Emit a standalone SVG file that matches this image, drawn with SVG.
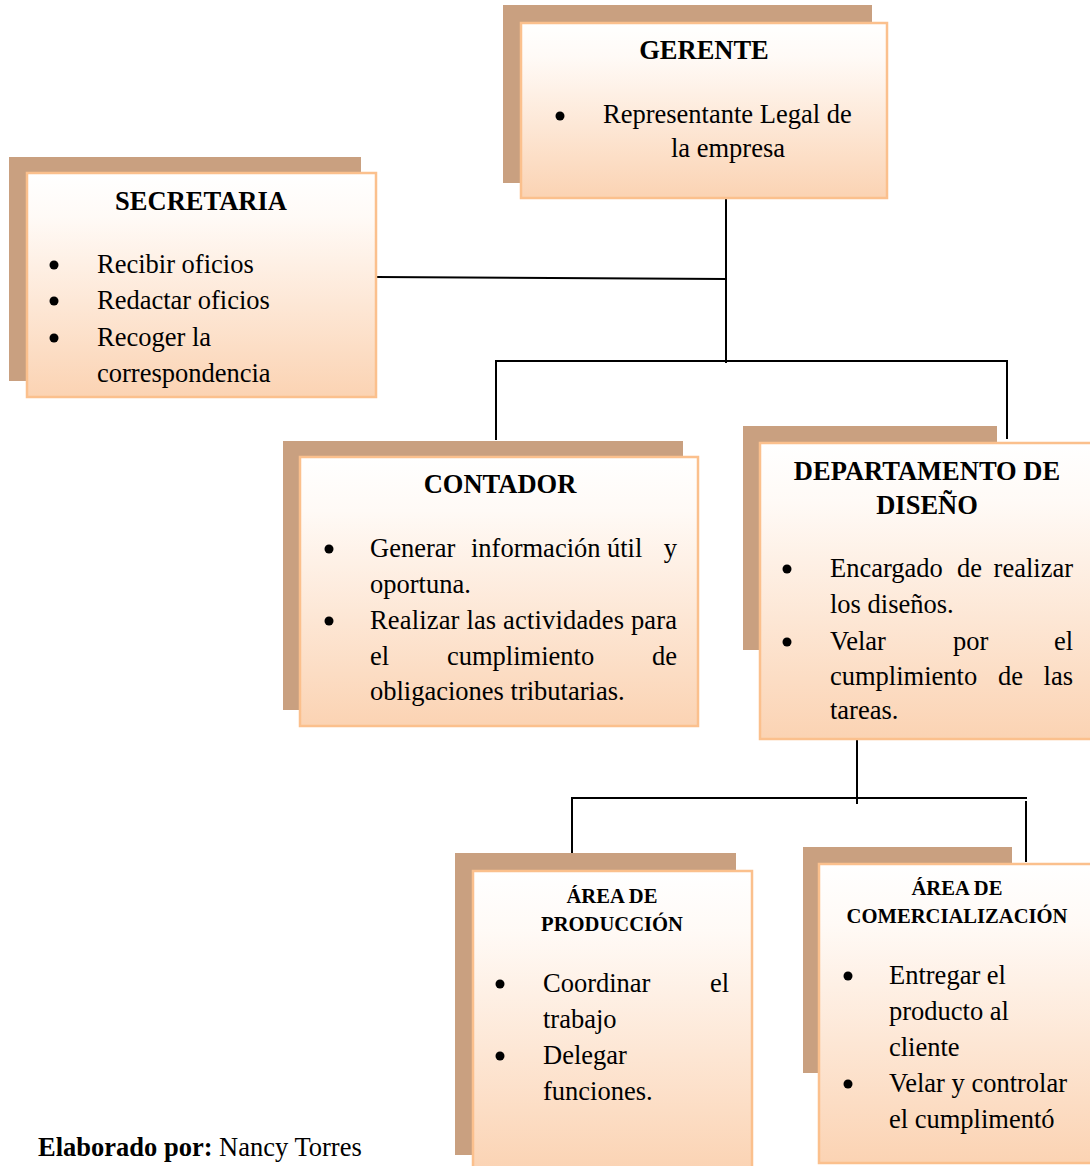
<svg xmlns="http://www.w3.org/2000/svg" width="1090" height="1166" viewBox="0 0 1090 1166">
<defs>
<linearGradient id="peach" x1="0" y1="0" x2="0" y2="1">
<stop offset="0" stop-color="#FFFFFF"/>
<stop offset="0.2" stop-color="#FFFAF6"/>
<stop offset="1" stop-color="#FBD3B3"/>
</linearGradient>
<style>
.shadow{fill:#C9A080;}
.box{fill:url(#peach);stroke:#FBC08D;stroke-width:2.5;}
.t{font-family:"Liberation Serif","Times New Roman",serif;font-size:26.5px;fill:#000;}
.h{font-family:"Liberation Serif","Times New Roman",serif;font-size:26.5px;font-weight:bold;fill:#000;text-anchor:middle;}
.hs{font-family:"Liberation Serif","Times New Roman",serif;font-size:20.6px;font-weight:bold;fill:#000;text-anchor:middle;}
.e{text-anchor:end;}
.m{text-anchor:middle;}
.b{fill:#000;}
.c{stroke:#000;stroke-width:2;fill:none;}
</style>
</defs>
<rect width="1090" height="1166" fill="#FFFFFF"/>

<g id="connectors">
<line class="c" x1="726" y1="198" x2="726" y2="363"/>
<line class="c" x1="376" y1="277" x2="726" y2="279"/>
<polyline class="c" points="496,440 496,361 1007,361 1007,439"/>
<line class="c" x1="857" y1="739" x2="857" y2="804"/>
<polyline class="c" points="572,858 572,798 1027,798"/>
<line class="c" x1="1026" y1="801" x2="1026" y2="862"/>
</g>

<g id="gerente">
<rect class="shadow" x="503" y="5" width="369" height="178"/>
<rect class="box" x="521" y="23" width="366" height="175"/>
<text class="h" x="704" y="59">GERENTE</text>
<circle class="b" cx="560" cy="116" r="4.5"/>
<text class="t" x="603" y="123">Representante Legal de</text>
<text class="t m" x="728" y="157">la empresa</text>
</g>

<g id="secretaria">
<rect class="shadow" x="9" y="157" width="352" height="224"/>
<rect class="box" x="27" y="173" width="349" height="224"/>
<text class="h" x="201" y="210">SECRETARIA</text>
<circle class="b" cx="54" cy="265" r="4.5"/>
<text class="t" x="97" y="273">Recibir oficios</text>
<circle class="b" cx="54" cy="301" r="4.5"/>
<text class="t" x="97" y="309">Redactar oficios</text>
<circle class="b" cx="54" cy="338" r="4.5"/>
<text class="t" x="97" y="346">Recoger la</text>
<text class="t" x="97" y="382">correspondencia</text>
</g>

<g id="contador">
<rect class="shadow" x="283" y="441" width="400" height="269"/>
<rect class="box" x="300" y="457" width="398" height="269"/>
<text class="h" x="500" y="493">CONTADOR</text>
<circle class="b" cx="329" cy="549" r="4.5"/>
<text class="t" x="370" y="557">Generar</text>
<text class="t" x="471" y="557">información</text>
<text class="t" x="607" y="557">útil</text>
<text class="t e" x="677" y="557">y</text>
<text class="t" x="370" y="593">oportuna.</text>
<circle class="b" cx="329" cy="621" r="4.5"/>
<text class="t" x="370" y="629" textLength="307" lengthAdjust="spacing">Realizar las actividades para</text>
<text class="t" x="370" y="665">el</text>
<text class="t" x="447" y="665">cumplimiento</text>
<text class="t e" x="677" y="665">de</text>
<text class="t" x="370" y="700">obligaciones tributarias.</text>
</g>

<g id="departamento">
<rect class="shadow" x="743" y="426" width="254" height="224"/>
<rect class="box" x="760" y="443" width="332" height="296"/>
<text class="h" x="927" y="480">DEPARTAMENTO DE</text>
<text class="h" x="927" y="514">DISEÑO</text>
<circle class="b" cx="787" cy="569" r="4.5"/>
<text class="t" x="830" y="577">Encargado</text>
<text class="t" x="957" y="577">de</text>
<text class="t e" x="1073" y="577">realizar</text>
<text class="t" x="830" y="613">los diseños.</text>
<circle class="b" cx="787" cy="642" r="4.5"/>
<text class="t" x="830" y="650">Velar</text>
<text class="t" x="953" y="650">por</text>
<text class="t e" x="1073" y="650">el</text>
<text class="t" x="830" y="685">cumplimiento</text>
<text class="t" x="998" y="685">de</text>
<text class="t e" x="1073" y="685">las</text>
<text class="t" x="830" y="719">tareas.</text>
</g>

<g id="area-produccion">
<rect class="shadow" x="455" y="853" width="281" height="302"/>
<rect class="box" x="473" y="871" width="279" height="302"/>
<text class="hs" x="612" y="903">ÁREA DE</text>
<text class="hs" x="612" y="931">PRODUCCIÓN</text>
<circle class="b" cx="500" cy="984" r="4.5"/>
<text class="t" x="543" y="992">Coordinar</text>
<text class="t e" x="729" y="992">el</text>
<text class="t" x="543" y="1028">trabajo</text>
<circle class="b" cx="500" cy="1056" r="4.5"/>
<text class="t" x="543" y="1064">Delegar</text>
<text class="t" x="543" y="1100">funciones.</text>
</g>

<g id="area-comercializacion">
<rect class="shadow" x="803" y="847" width="209" height="226"/>
<rect class="box" x="819" y="864" width="277" height="299"/>
<text class="hs" x="957" y="895">ÁREA DE</text>
<text class="hs" x="957" y="923">COMERCIALIZACIÓN</text>
<circle class="b" cx="848" cy="976" r="4.5"/>
<text class="t" x="889" y="984">Entregar el</text>
<text class="t" x="889" y="1020">producto al</text>
<text class="t" x="889" y="1056">cliente</text>
<circle class="b" cx="848" cy="1084" r="4.5"/>
<text class="t" x="889" y="1092">Velar y controlar</text>
<text class="t" x="889" y="1128">el cumplimentó</text>
</g>

<g id="footer">
<text class="t" x="38" y="1156"><tspan font-weight="bold">Elaborado por:</tspan> Nancy Torres</text>
</g>
</svg>
